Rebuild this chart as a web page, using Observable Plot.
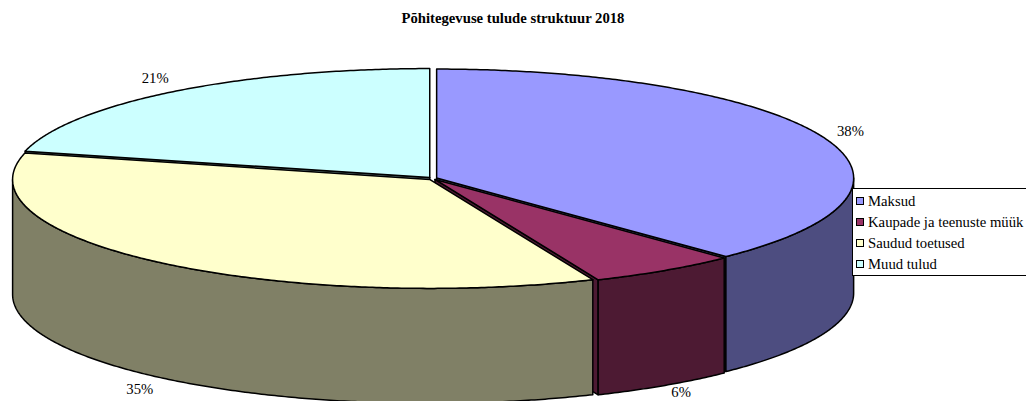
<!DOCTYPE html>
<html>
<head>
<meta charset="utf-8">
<script src="https://cdn.jsdelivr.net/npm/d3@7"></script>
<script src="https://cdn.jsdelivr.net/npm/@observablehq/plot@0.6"></script>
<style>
  html, body { margin: 0; padding: 0; background: #fff; }
  #wrap { position: relative; width: 1026px; height: 401px; overflow: hidden;
          font-family: "Liberation Serif", "Times New Roman", serif; color: #000; }
  #title { position: absolute; left: 0; top: 10.5px; width: 1026px; text-align: center;
           font-weight: bold; font-size: 14.7px; line-height: 15px; }
  #chart { position: absolute; left: 0; top: 0; }
  #legend { position: absolute; left: 852px; top: 188px; width: 200px; border: 1px solid #000;
            background: #fff; padding: 2px 0 0 3px; }
  .row { height: 21px; display: flex; align-items: center; font-size: 14.7px; line-height: 21px; white-space: nowrap;
         font-family: "Liberation Serif", "Times New Roman", serif; }
  .sw { width: 6px; height: 6px; border: 1px solid #000; margin-right: 4px; flex: none; position: relative; top: -1px; }
</style>
</head>
<body>
<div id="wrap">
  <div id="chart"></div>
  <div id="title"></div>
  <div id="legend"></div>
</div>
<script>
// ---- data ----
const chartTitle = "Põhitegevuse tulude struktuur 2018";
const categories = ["Maksud", "Kaupade ja teenuste müük", "Saudud toetused", "Muud tulud"];
const shares = [37.8, 5.8, 35.3, 21.1];

// ---- styles ----
const topColors = ["#9999FF", "#993366", "#FFFFCC", "#CCFFFF"];
const sideColors = ["#4D4D80", "#4D1A33", "#808066", "#668080"];

// ---- geometry of the 3D pie (pixel frame) ----
const W = 1026, H = 401;
const cx = 432, cy = 178, rx = 417, ry = 109, depth = 115, explode = 0.0107;

const total = d3.sum(shares);
let acc = 0;
const slices = categories.map((name, i) => {
  const a0 = acc / total * 2 * Math.PI;
  acc += shares[i];
  const a1 = acc / total * 2 * Math.PI;
  const mid = (a0 + a1) / 2;
  return {name, i, a0, a1, mid,
    dx: explode * rx * Math.sin(mid),
    dy: -explode * ry * Math.cos(mid)};
});

const pt = (s, a, z = 0) => [cx + s.dx + rx * Math.sin(a), cy + s.dy - ry * Math.cos(a) + z];
const ctr = (s, z = 0) => [cx + s.dx, cy + s.dy + z];
function arc(s, a0, a1, z = 0) {
  const n = Math.max(2, Math.ceil(Math.abs(a1 - a0) / (Math.PI / 360)));
  return d3.range(n + 1).map(k => pt(s, a0 + (a1 - a0) * k / n, z));
}
function addPoly(list, id, ring, fill) {
  [...ring, ring[0]].forEach((p, k) => list.push({id, k, x: p[0], y: p[1], fill}));
}

const walls = [], outer = [], tops = [];
slices.forEach(s => {
  // radial walls
  if (Math.sin(s.a0) < -1e-9) {
    const r = pt(s, s.a0), rb = pt(s, s.a0, depth);
    addPoly(walls, s.name + "-w0", [ctr(s), r, rb, ctr(s, depth)], sideColors[s.i]);
  }
  if (Math.sin(s.a1) > 1e-9) {
    const r = pt(s, s.a1), rb = pt(s, s.a1, depth);
    addPoly(walls, s.name + "-w1", [ctr(s), r, rb, ctr(s, depth)], sideColors[s.i]);
  }
  // outer curved wall (front half only)
  const lo = Math.max(s.a0, Math.PI / 2), hi = Math.min(s.a1, 3 * Math.PI / 2);
  if (hi > lo) {
    const ring = [...arc(s, lo, hi), ...arc(s, hi, lo, depth)];
    addPoly(outer, s.name + "-side", ring, sideColors[s.i]);
  }
  // top face
  addPoly(tops, s.name + "-top", [ctr(s), ...arc(s, s.a0, s.a1)], topColors[s.i]);
});

const kx = 1.07, ky = 1.15;
const labelRows = slices.map(s => ({
  x: cx + s.dx + rx * kx * Math.sin(s.mid),
  y: Math.min(H - 9, cy + s.dy - ry * ky * Math.cos(s.mid) + (Math.cos(s.mid) < 0 ? depth : 0)),
  text: Math.round(shares[s.i]) + "%"
}));

const lineOpts = {x: "x", y: "y", z: "id", fill: "fill", stroke: "#000", strokeWidth: 1.5,
                  strokeLinejoin: "round", strokeLinecap: "round"};

const chart = Plot.plot({
  width: W, height: H, margin: 0,
  x: {domain: [0, W], range: [0, W], axis: null},
  y: {domain: [0, H], range: [0, H], axis: null},
  color: {type: "identity"},
  style: {background: "transparent", overflow: "hidden"},
  marks: [
    Plot.line(walls, lineOpts),
    Plot.line(outer, lineOpts),
    Plot.line(tops, lineOpts),
    Plot.text(labelRows, {x: "x", y: "y", text: "text", fill: "#000",
      fontSize: 14.7, fontFamily: "'Liberation Serif', 'Times New Roman', serif"})
  ]
});
document.getElementById("chart").appendChild(chart);

document.getElementById("title").textContent = chartTitle;
const legend = document.getElementById("legend");
categories.forEach((c, i) => {
  const row = document.createElement("div");
  row.className = "row";
  const sw = document.createElement("span");
  sw.className = "sw";
  sw.style.background = topColors[i];
  const t = document.createElement("span");
  t.textContent = c;
  row.appendChild(sw);
  row.appendChild(t);
  legend.appendChild(row);
});
</script>
</body>
</html>
